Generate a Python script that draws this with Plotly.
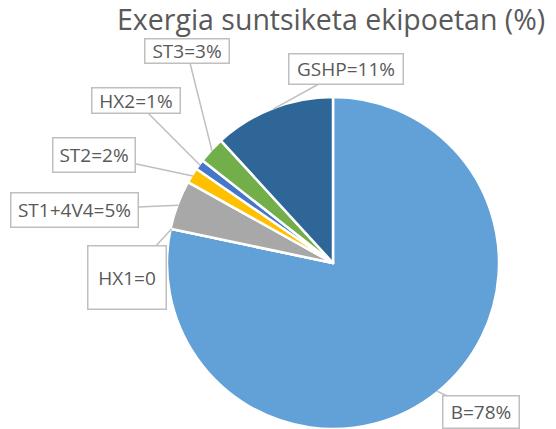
import math
import plotly.graph_objects as go

labels = ["B", "HX1", "ST1+4V4", "ST2", "HX2", "ST3", "GSHP"]
values = [78.3, 0.0, 4.8, 1.5, 1.0, 2.6, 11.8]
label_texts = ["B=78%", "HX1=0", "ST1+4V4=5%", "ST2=2%", "HX2=1%", "ST3=3%", "GSHP=11%"]
colors = ["#62A0D8", "#ED7D31", "#A8A8A8", "#FFC000", "#4676C8", "#72AE4A", "#2E6698"]

W, H = 556, 429
cx, cy, r = 333, 263, 165  # pie centre and radius in pixels
rd = H - cy                # domain half-size (bottom of domain = bottom of figure)

# label box centres (pixels) and sizes
box_pos = [(481, 412), (127, 277), (74, 210), (94, 155), (136, 101), (187, 51), (346, 69)]
box_size = [(75, 31), (77, 62), (126, 33), (81, 33), (87, 24), (83, 23), (113, 29)]

fig = go.Figure(go.Pie(
    labels=labels, values=values, sort=False, direction="clockwise", rotation=0,
    marker=dict(colors=colors, line=dict(color="white", width=2.5)),
    textinfo="none", hoverinfo="label+percent",
    domain=dict(x=[(cx - rd) / W, (cx + rd) / W], y=[0, 1 - (cy - rd) / H]),
))

total = sum(values)
annotations = []
cum = 0.0
for lab, v, (bx, by), (bw, bh) in zip(label_texts, values, box_pos, box_size):
    mid = (cum + v / 2) / total * 2 * math.pi
    cum += v
    tx = cx + r * math.sin(mid)
    ty = cy - r * math.cos(mid)
    annotations.append(dict(
        x=tx / W, y=1 - ty / H, xref="paper", yref="paper",
        ax=bx - tx, ay=by - ty, axref="pixel", ayref="pixel",
        text=lab, showarrow=True, arrowhead=0, arrowwidth=1.5, arrowcolor="#BFBFBF",
        bordercolor="#BFBFBF", borderwidth=1.5, borderpad=0, bgcolor="white",
        width=bw, height=bh, align="center", valign="middle",
        font=dict(family="Open Sans", size=19, color="#595959"),
    ))

annotations.append(dict(
    x=331 / W, y=1 - 19 / H, xref="paper", yref="paper", showarrow=False,
    xanchor="center", yanchor="middle",
    text="Exergia suntsiketa ekipoetan (%)",
    font=dict(family="Open Sans", size=28.5, color="#595959"),
))

fig.update_layout(
    width=W, height=H, margin=dict(l=0, r=0, t=0, b=0),
    paper_bgcolor="white", plot_bgcolor="white", showlegend=False,
    annotations=annotations,
)

fig.write_html("out.html", config={"displayModeBar": False},
               post_script="document.body.style.margin='0';")
